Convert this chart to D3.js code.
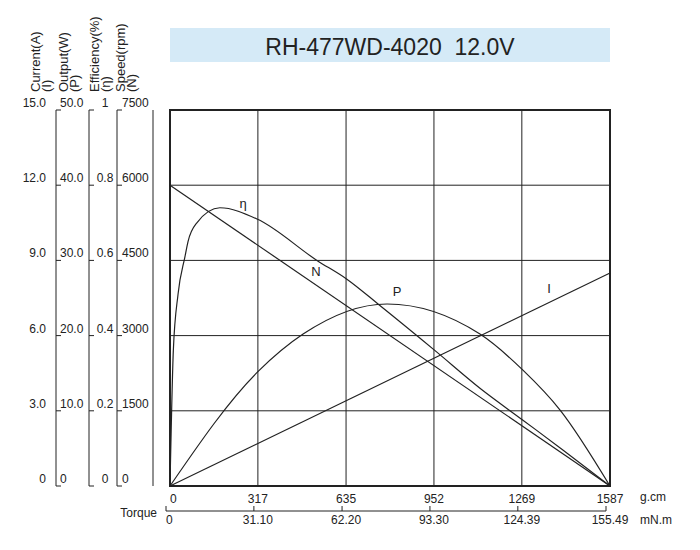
<!DOCTYPE html>
<html><head><meta charset="utf-8">
<script src="https://cdn.jsdelivr.net/npm/d3@7"></script>
<style>body{margin:0;background:#fff}text{font-family:Arial,"Liberation Sans",sans-serif;fill:#222}</style>
</head><body><div id="chart"></div>
<script>
// values (torque in g.cm)
const torqueTicks = [0, 317, 635, 952, 1269, 1587];
const mnmTicks = ["0", "31.10", "62.20", "93.30", "124.39", "155.49"];
const currentTicks = ["0", "3.0", "6.0", "9.0", "12.0", "15.0"];
const outputTicks = ["0", "10.0", "20.0", "30.0", "40.0", "50.0"];
const effTicks = ["0", "0.2", "0.4", "0.6", "0.8", "1"];
const speedTicks = ["0", "1500", "3000", "4500", "6000", "7500"];
const speedPts = [[0, 6000], [1587, 0]];
const currentPts = [[0, 0], [1587, 8.5]];
const powerPts = [[0, 0], [317, 15.2], [480, 20.2], [783, 24.2], [1118, 20.2], [1273, 15.4], [1407, 10.1], [1587, 0]];
const effPts = [[0, 0], [12, 0.36], [29, 0.51], [54, 0.61], [65, 0.65], [97, 0.70], [180, 0.74], [314, 0.71], [530, 0.60], [638, 0.55], [757, 0.48], [956, 0.36], [1118, 0.26], [1273, 0.175], [1417, 0.096], [1587, 0]];

const svg = d3.select("#chart").append("svg").attr("width", 700).attr("height", 550);
const x = d3.scaleLinear().domain([0, 1587]).range([170, 610]);
const yN = d3.scaleLinear().domain([0, 7500]).range([486, 110]);
const yI = d3.scaleLinear().domain([0, 15]).range([486, 110]);
const yP = d3.scaleLinear().domain([0, 50]).range([486, 110]);
const yE = d3.scaleLinear().domain([0, 1]).range([486, 110]);

// title
svg.append("rect").attr("x", 170).attr("y", 28).attr("width", 440).attr("height", 34).attr("fill", "#d5eaf7");
svg.append("text").attr("x", 390).attr("y", 55).attr("text-anchor", "middle").attr("font-size", 23)
    .attr("xml:space", "preserve").style("white-space", "pre").text("RH-477WD-4020  12.0V");

// grid
speedTicks.forEach((d, i) => {
    svg.append("line").attr("x1", 170).attr("x2", 610).attr("y1", yN(i * 1500)).attr("y2", yN(i * 1500))
        .attr("stroke", "#222").attr("stroke-width", 1);
});
torqueTicks.forEach(t => {
    svg.append("line").attr("x1", x(t)).attr("x2", x(t)).attr("y1", 110).attr("y2", 486).attr("stroke", "#222");
});
svg.append("rect").attr("x", 170).attr("y", 110).attr("width", 440).attr("height", 376)
    .attr("fill", "none").attr("stroke", "#222").attr("stroke-width", 2);

// left axes
const cols = [
    {ticks: currentTicks, tx: 46, anchor: "end", line: null},
    {ticks: outputTicks, tx: 60, anchor: "start", line: 56},
    {ticks: effTicks, tx: 105, anchor: "middle", line: 89},
    {ticks: speedTicks, tx: 122, anchor: "start", line: 117}
];
cols.forEach(c => {
    if (c.line !== null) {
        svg.append("line").attr("x1", c.line).attr("x2", c.line).attr("y1", 110).attr("y2", 486).attr("stroke", "#222");
    }
    c.ticks.forEach((t, i) => {
        const yy = yN(i * 1500);
        svg.append("text").attr("x", c.tx).attr("y", yy - 3).attr("text-anchor", c.anchor).attr("font-size", 12).text(t);
        if (c.line !== null) {
            svg.append("line").attr("x1", c.line).attr("x2", c.line + 5).attr("y1", yy).attr("y2", yy).attr("stroke", "#222");
        }
    });
});
svg.append("line").attr("x1", 153).attr("x2", 153).attr("y1", 110).attr("y2", 486).attr("stroke", "#222");

const vlabels = [["Current(A)", 40], ["(I)", 51], ["Output(W)", 68], ["(P)", 79], ["Efficiency(%)", 99], ["(η)", 110], ["Speed(rpm)", 125], ["(N)", 136]];
vlabels.forEach(([t, xx]) => {
    svg.append("text").attr("transform", `translate(${xx},92) rotate(-90)`).attr("font-size", 13).text(t);
});

// bottom axes
torqueTicks.forEach((t, i) => {
    svg.append("text").attr("x", x(t)).attr("y", 503).attr("text-anchor", i === 0 ? "start" : "middle").attr("font-size", 12).text(t);
    svg.append("text").attr("x", x(t) - (i === 0 ? 4 : 0)).attr("y", 524).attr("text-anchor", i === 0 ? "start" : "middle").attr("font-size", 12).text(mnmTicks[i]);
    svg.append("line").attr("x1", x(t) - 4).attr("x2", x(t) - 4).attr("y1", 506).attr("y2", 511).attr("stroke", "#222");
});
svg.append("line").attr("x1", 166).attr("x2", 606).attr("y1", 511).attr("y2", 511).attr("stroke", "#222");
svg.append("text").attr("x", 157).attr("y", 517).attr("text-anchor", "end").attr("font-size", 12).text("Torque");
svg.append("text").attr("x", 640).attr("y", 501).attr("font-size", 12).text("g.cm");
svg.append("text").attr("x", 640).attr("y", 524).attr("font-size", 12).text("mN.m");

// curves
const mk = ys => d3.line().x(d => x(d[0])).y(d => ys(d[1])).curve(d3.curveMonotoneX);
[[speedPts, yN], [currentPts, yI], [powerPts, yP], [effPts, yE]].forEach(([pts, ys]) => {
    svg.append("path").attr("d", mk(ys)(pts)).attr("fill", "none").attr("stroke", "#222").attr("stroke-width", 1.2);
});
[["η", 243, 208], ["N", 316, 276], ["P", 397, 296], ["I", 549, 293]].forEach(([t, xx, yy]) => {
    svg.append("text").attr("x", xx).attr("y", yy).attr("text-anchor", "middle").attr("font-size", 13).text(t);
});
</script></body></html>
